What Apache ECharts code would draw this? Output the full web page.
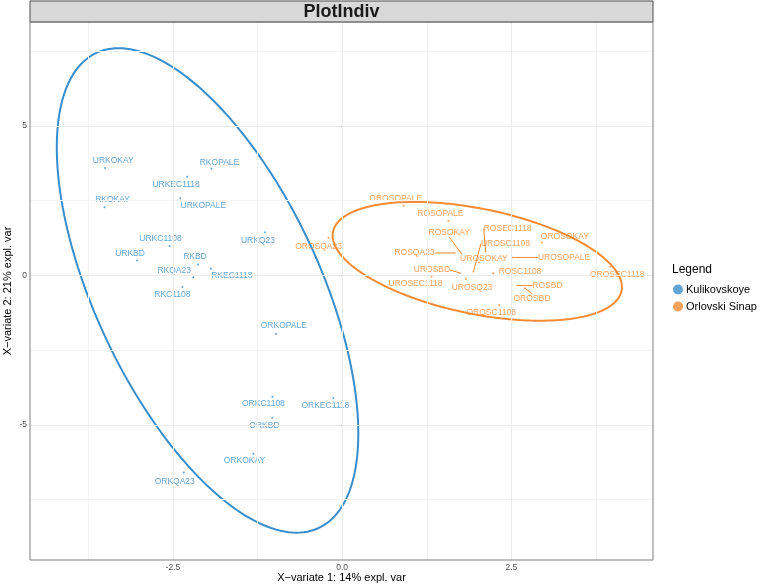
<!DOCTYPE html>
<html>
<head>
<meta charset="utf-8">
<script src="https://cdn.jsdelivr.net/npm/echarts@6/dist/echarts.min.js"></script>
<style>
html,body{margin:0;padding:0;background:#fff}
#chart{width:761px;height:585px}
</style>
</head>
<body>
<div id="chart"></div>
<script>
// sample scores on the first two X-variates
var kulNames = ['URKOKAY','RKOPALE','URKEC1118','RKOKAY','URKOPALE','URKC1108','URKBD','URKQ23','RKBD',
  'RKQA23','RKEC1118','RKC1108','ORKOPALE','ORKC1108','ORKEC1118','ORKBD','ORKOKAY','ORKQA23'];
var kulX = [-3.50,-1.93,-2.29,-3.51,-2.39,-2.55,-3.03,-1.14,-2.13,-2.20,-1.94,-2.36,-0.98,-1.03,-0.13,-1.03,-1.31,-2.34];
var kulY = [3.59,3.57,3.30,2.28,2.58,0.98,0.50,1.44,0.36,-0.06,0.22,-0.39,-1.96,-4.06,-4.10,-4.76,-5.97,-6.59];

var orlNames = ['OROSOPALE','ROSOPALE','ROSOKAY','ROSEC1118','OROSOKAY','ROSQA23','UROSOKAY','UROSOPALE','UROSBD',
  'ROSC1108','UROSEC1118','UROSQ23','ROSBD','OROSBD','OROSC1108','OROSEC1118','OROSQA23','UROSC1108'];
var orlX = [0.91,1.57,1.76,2.12,2.95,1.66,2.02,2.51,1.74,2.23,1.32,1.83,2.59,2.70,2.32,3.96,-0.20,1.94];
var orlY = [2.32,1.82,0.73,0.80,1.10,0.75,0.43,0.60,0.08,0.07,-0.04,-0.12,-0.34,-0.43,-0.99,0.30,1.26,0.13];

var xTicks = [-2.5, 0, 2.5];
var yTicks = [-5, 0, 5];

// where the repelled labels sit relative to their point (px), and which get a segment
var kulShift = [[8,-7],[8,-6],[-11,8],[8,-8],[23,7],[-9,-7],[-7,-7],[-7,8],[-3,-8],
  [-19,-7],[21,7],[-10,8],[8,-8],[-9,7],[-8,8],[-8,8],[-9,7],[-9,9]];
var orlShift = [[-8,-7],[-8,-7],[-12,-21],[22,-23],[23,-6],[-40,0],[5,-4],[52,0],[-28,-3],
  [27,-2],[-16,7],[6,9],[30,0],[7,10],[-8,8],[7,8],[-10,9],[32,-28]];
var orlSegment = ['ROSOKAY','ROSEC1118','ROSQA23','UROSOPALE','UROSBD','ROSBD','OROSBD','UROSC1108'];

var blue = '#388ECC', orange = '#F68B33';

// 95% confidence ellipse from the group covariance (as in the R ellipse package)
function ellipse(xs, ys, level) {
  var n = xs.length, mx = 0, my = 0, i;
  for (i = 0; i < n; i++) { mx += xs[i]; my += ys[i]; }
  mx /= n; my /= n;
  var sxx = 0, syy = 0, sxy = 0;
  for (i = 0; i < n; i++) {
    sxx += (xs[i]-mx)*(xs[i]-mx);
    syy += (ys[i]-my)*(ys[i]-my);
    sxy += (xs[i]-mx)*(ys[i]-my);
  }
  sxx /= n-1; syy /= n-1; sxy /= n-1;
  var sx = Math.sqrt(sxx), sy = Math.sqrt(syy);
  var d = Math.acos(sxy/(sx*sy));
  var t = Math.sqrt(-2*Math.log(1-level));  // sqrt(qchisq(level, 2))
  var pts = [];
  for (var k = 0; k <= 200; k++) {
    var a = 2*Math.PI*k/200;
    pts.push([mx + t*sx*Math.cos(a + d/2), my + t*sy*Math.cos(a - d/2)]);
  }
  return pts;
}

function points(names, xs, ys, seg) {
  return names.map(function (nm, i) {
    var o = {name: nm, value: [xs[i], ys[i]]};
    if (seg && seg.indexOf(nm) >= 0) o.labelLine = {show: true};
    return o;
  });
}

function gridLines(vals, axis, color) {
  return vals.map(function (v) {
    var o = {lineStyle: {color: color}};
    o[axis] = v;
    return o;
  });
}

function scatter(name, data, color, shift) {
  return {
    name: name,
    type: 'scatter',
    data: data,
    symbolSize: 2,
    itemStyle: {color: color},
    z: 3,
    label: {
      show: true,
      position: 'inside',
      formatter: '{b}',
      color: color,
      fontSize: 8.5,
      fontFamily: 'Liberation Sans'
    },
    labelLine: {show: false, lineStyle: {color: color, width: 1}},
    labelLayout: function (p) {
      var s = shift[p.dataIndex];
      return {dx: s[0], dy: s[1], hideOverlap: false};
    },
    emphasis: {disabled: true}
  };
}

var chart = echarts.init(document.getElementById('chart'));

chart.setOption({
  animation: false,
  backgroundColor: '#fff',
  grid: {left: 30, right: 108, top: 22, bottom: 25, outerBoundsMode: 'none', containLabel: false},
  xAxis: {
    type: 'value',
    min: -4.611,
    max: 4.592,
    axisLine: {show: false},
    axisTick: {show: true, customValues: xTicks, length: 3, lineStyle: {color: '#333'}},
    axisLabel: {
      customValues: xTicks, color: '#4d4d4d', fontSize: 8.5, margin: 3,
      fontFamily: 'Liberation Sans',
      formatter: function (v) { return v.toFixed(1); }
    },
    splitLine: {show: false},
    name: 'X\u2212variate 1: 14% expl. var',
    nameLocation: 'middle',
    nameGap: 12,
    nameMoveOverlap: false,
    nameTextStyle: {color: '#000', fontSize: 11, fontFamily: 'Liberation Sans'}
  },
  yAxis: {
    type: 'value',
    min: -9.52,
    max: 8.475,
    axisLine: {show: false},
    axisTick: {show: true, customValues: yTicks, length: 3, lineStyle: {color: '#333'}},
    axisLabel: {
      customValues: yTicks, color: '#4d4d4d', fontSize: 8.5, margin: 3,
      fontFamily: 'Liberation Sans'
    },
    splitLine: {show: false},
    name: 'X\u2212variate 2: 21% expl. var',
    nameLocation: 'middle',
    nameGap: 17,
    nameRotate: 90,
    nameMoveOverlap: false,
    nameTextStyle: {color: '#000', fontSize: 11, fontFamily: 'Liberation Sans'}
  },
  legend: {
    orient: 'vertical',
    left: 673,
    top: 284,
    padding: 0,
    itemGap: 6,
    itemWidth: 10,
    itemHeight: 10,
    icon: 'circle',
    data: ['Kulikovskoye', 'Orlovski Sinap'],
    textStyle: {color: '#000', fontSize: 11, fontFamily: 'Liberation Sans', padding: [0, 0, 0, -2]}
  },
  graphic: [
    {type: 'rect', shape: {x: 30, y: 1, width: 623, height: 21}, z: 10,
      style: {fill: '#d9d9d9', stroke: '#4d4d4d', lineWidth: 1}},
    {type: 'text', x: 341.5, y: 12, z: 11,
      style: {text: 'PlotIndiv', fill: '#1a1a1a', font: 'bold 18px "Liberation Sans"',
        textAlign: 'center', textVerticalAlign: 'middle'}},
    {type: 'rect', shape: {x: 30, y: 22, width: 623, height: 538}, z: 10,
      style: {fill: 'none', stroke: '#7f7f7f', lineWidth: 1}},
    {type: 'text', x: 672, y: 264, z: 11,
      style: {text: 'Legend', fill: '#000', font: '12px "Liberation Sans"'}}
  ],
  series: [
    {
      name: 'grid',
      type: 'line',
      data: [],
      z: 0,
      silent: true,
      markLine: {
        silent: true,
        symbol: 'none',
        label: {show: false},
        animation: false,
        lineStyle: {type: 'solid', width: 1},
        data: gridLines([-3.75, -1.25, 1.25, 3.75], 'xAxis', '#f4f4f4')
          .concat(gridLines([-7.5, -2.5, 2.5, 7.5], 'yAxis', '#f4f4f4'))
          .concat(gridLines(xTicks, 'xAxis', '#ebebeb'))
          .concat(gridLines(yTicks, 'yAxis', '#ebebeb'))
      }
    },
    {
      name: 'Kulikovskoye ellipse',
      type: 'line',
      data: ellipse(kulX, kulY, 0.95),
      showSymbol: false,
      lineStyle: {color: blue, width: 2},
      silent: true,
      z: 2
    },
    {
      name: 'Orlovski Sinap ellipse',
      type: 'line',
      data: ellipse(orlX, orlY, 0.95),
      showSymbol: false,
      lineStyle: {color: orange, width: 2},
      silent: true,
      z: 2
    },
    scatter('Kulikovskoye', points(kulNames, kulX, kulY, null), blue, kulShift),
    scatter('Orlovski Sinap', points(orlNames, orlX, orlY, orlSegment), orange, orlShift)
  ]
});
</script>
</body>
</html>
